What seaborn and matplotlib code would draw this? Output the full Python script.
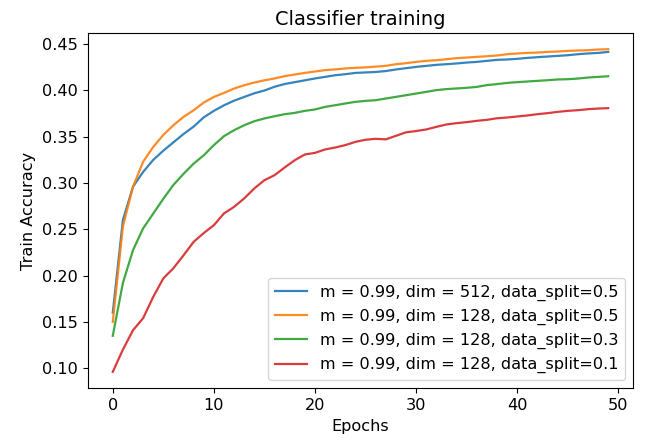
import numpy as np
import pandas as pd
import matplotlib
matplotlib.use("Agg")
import matplotlib.pyplot as plt
import seaborn as sns

epochs = list(range(50))

acc_512_05 = [0.160, 0.260, 0.296, 0.312, 0.325, 0.335, 0.344, 0.353, 0.361, 0.371,
              0.378, 0.384, 0.389, 0.393, 0.397, 0.400, 0.404, 0.407, 0.409, 0.411,
              0.413, 0.4147, 0.4165, 0.4176, 0.419, 0.4195, 0.420, 0.421, 0.4227, 0.4241,
              0.4255, 0.4266, 0.4277, 0.4284, 0.4292, 0.4302, 0.4309, 0.432, 0.4331, 0.4335,
              0.4342, 0.4352, 0.436, 0.4367, 0.4374, 0.4381, 0.4392, 0.440, 0.4406, 0.4417]

acc_128_05 = [0.150, 0.253, 0.296, 0.323, 0.339, 0.352, 0.3625, 0.3715, 0.3787, 0.387,
              0.393, 0.3974, 0.4021, 0.4057, 0.4086, 0.411, 0.413, 0.4155, 0.4173, 0.419,
              0.4205, 0.422, 0.4228, 0.4238, 0.4245, 0.425, 0.4258, 0.4266, 0.4284, 0.4295,
              0.4309, 0.432, 0.4327, 0.4338, 0.4349, 0.4356, 0.4363, 0.437, 0.4378, 0.4392,
              0.440, 0.4406, 0.441, 0.4417, 0.4421, 0.4428, 0.4432, 0.4435, 0.4443, 0.4446]

acc_128_03 = [0.135, 0.192, 0.2275, 0.251, 0.267, 0.283, 0.298, 0.310, 0.321, 0.330,
              0.341, 0.3507, 0.3571, 0.3625, 0.3668, 0.3698, 0.3722, 0.3744, 0.3758, 0.378,
              0.3795, 0.3823, 0.3841, 0.386, 0.3877, 0.3888, 0.3895, 0.3913, 0.3931, 0.3949,
              0.3967, 0.3985, 0.4004, 0.4015, 0.4022, 0.4029, 0.4039, 0.4058, 0.4069, 0.4082,
              0.409, 0.4097, 0.4104, 0.4111, 0.4119, 0.4122, 0.4129, 0.414, 0.4147, 0.4154]

acc_128_01 = [0.096, 0.120, 0.141, 0.154, 0.177, 0.197, 0.208, 0.222, 0.2365, 0.246,
              0.2545, 0.2672, 0.2743, 0.2834, 0.2942, 0.3031, 0.3085, 0.3168, 0.3247, 0.3309,
              0.3326, 0.3363, 0.3384, 0.341, 0.3445, 0.3468, 0.3478, 0.3472, 0.351, 0.3548,
              0.3562, 0.3579, 0.3607, 0.3633, 0.3647, 0.3658, 0.3672, 0.3683, 0.370, 0.3708,
              0.3719, 0.373, 0.3744, 0.3755, 0.3769, 0.378, 0.3787, 0.3798, 0.3805, 0.3809]

labels = ["m = 0.99, dim = 512, data_split=0.5",
          "m = 0.99, dim = 128, data_split=0.5",
          "m = 0.99, dim = 128, data_split=0.3",
          "m = 0.99, dim = 128, data_split=0.1"]

series = [acc_512_05, acc_128_05, acc_128_03, acc_128_01]

# long format for seaborn
frames = []
for lab, vals in zip(labels, series):
    frames.append(pd.DataFrame({"Epochs": epochs, "Train Accuracy": vals, "run": lab}))
df = pd.concat(frames, ignore_index=True)

plt.rcParams["font.size"] = 11.6
plt.rcParams["xtick.major.size"] = 3.8
plt.rcParams["ytick.major.size"] = 3.8

fig, ax = plt.subplots(figsize=(6.49, 4.47), dpi=100)
fig.subplots_adjust(left=0.1356, right=0.9753, top=0.926, bottom=0.132)

sns.lineplot(data=df, x="Epochs", y="Train Accuracy", hue="run",
             palette="tab10", linewidth=1.6, alpha=0.9, ax=ax)

ax.set_title("Classifier training")
ax.set_xlabel("Epochs")
ax.set_ylabel("Train Accuracy")
ax.set_yticks([0.10, 0.15, 0.20, 0.25, 0.30, 0.35, 0.40, 0.45])
ax.legend(loc="lower right", title=None)

fig.savefig("out.png", dpi=100)
